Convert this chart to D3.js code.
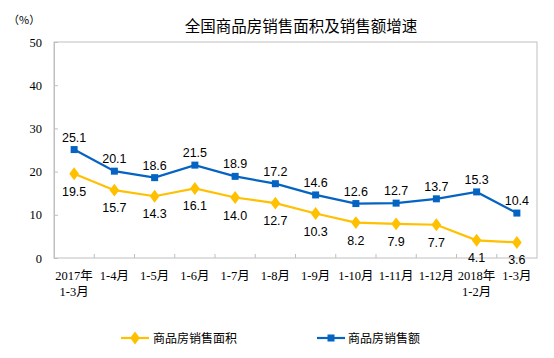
<!DOCTYPE html>
<html><head><meta charset="utf-8">
<script src="https://cdn.jsdelivr.net/npm/d3@7"></script>
<style>body{margin:0;background:#fff;}svg{display:block;}</style>
</head><body>
<script>
const categories = [["2017年","1-3月"],["1-4月"],["1-5月"],["1-6月"],["1-7月"],["1-8月"],["1-9月"],["1-10月"],["1-11月"],["1-12月"],["2018年","1-2月"],["1-3月"]];
const areaValues = [19.5,15.7,14.3,16.1,14.0,12.7,10.3,8.2,7.9,7.7,4.1,3.6];
const salesValues = [25.1,20.1,18.6,21.5,18.9,17.2,14.6,12.6,12.7,13.7,15.3,10.4];
const yTicks = [0,10,20,30,40,50];
const seriesNames = ["商品房销售面积","商品房销售额"];
const title = "全国商品房销售面积及销售额增速";

const W=554,H=358;
const m={l:54,r:537,t:42,b:258};
const svg=d3.select("body").append("svg").attr("width",W).attr("height",H);
const x=d3.scaleBand().domain(d3.range(categories.length)).range([m.l,m.r]);
const y=d3.scaleLinear().domain([0,50]).range([m.b,m.t]);
const grey="#BFBFBF";
const serif="'Liberation Serif','Times New Roman','Noto Sans CJK SC',serif";
const sans="'Liberation Sans',Arial,'Noto Sans CJK SC',sans-serif";
const cjk="'Noto Sans CJK SC','Liberation Sans',sans-serif";

svg.append("text").attr("x",301).attr("y",32).attr("text-anchor","middle")
  .attr("font-family",cjk).attr("font-size",15.5).attr("fill","#000").text(title);
svg.append("text").attr("x",8).attr("y",24).attr("font-family",cjk).attr("font-size",11).attr("fill","#000").text("（%）");

// frame
svg.append("rect").attr("x",m.l).attr("y",m.t).attr("width",m.r-m.l).attr("height",m.b-m.t)
  .attr("fill","none").attr("stroke",grey).attr("stroke-width",1);

// y axis ticks inside
const yAxis=d3.axisLeft(y).tickValues(yTicks).tickSizeInner(-4).tickSizeOuter(0).tickPadding(12);
const gy=svg.append("g").attr("transform",`translate(${m.l},0)`).call(yAxis);
gy.select(".domain").attr("stroke",grey);
gy.selectAll(".tick line").attr("stroke",grey);
gy.selectAll(".tick text").attr("font-family",serif).attr("font-size",12.5).attr("fill","#000");

// x axis ticks at band boundaries, inside
const bounds=d3.range(1,categories.length).map(i=>m.l+x.step()*i);
svg.append("g").selectAll("line").data(bounds).join("line")
  .attr("x1",d=>d).attr("x2",d=>d).attr("y1",m.b).attr("y2",m.b-4).attr("stroke",grey);
const xl=svg.append("g").selectAll("text").data(categories).join("text")
  .attr("text-anchor","middle").attr("font-family",serif).attr("font-size",12.5).attr("fill","#000")
  .attr("x",(d,i)=>x(i)+x.bandwidth()/2);
xl.each(function(d){
  const t=d3.select(this);
  d.forEach((s,j)=>t.append("tspan").attr("x",t.attr("x")).attr("y",280+j*15.5).text(s));
});

const cx=i=>x(i)+x.bandwidth()/2;
const line=d3.line().x((d,i)=>cx(i)).y(d=>y(d));
const yellow="#FFC000", blue="#0563C1";

svg.append("path").datum(areaValues).attr("d",line).attr("fill","none").attr("stroke",yellow).attr("stroke-width",2.2);
svg.append("path").datum(salesValues).attr("d",line).attr("fill","none").attr("stroke",blue).attr("stroke-width",2.2);

const diamond=d3.symbol().type(d3.symbolDiamond).size(48);
svg.append("g").selectAll("path").data(areaValues).join("path")
  .attr("d",diamond).attr("transform",(d,i)=>`translate(${cx(i)},${y(d)}) scale(1.3,1)`).attr("fill",yellow);
svg.append("g").selectAll("rect").data(salesValues).join("rect")
  .attr("x",(d,i)=>cx(i)-3.5).attr("y",d=>y(d)-3.5).attr("width",7).attr("height",7).attr("fill",blue);

svg.append("g").selectAll("text").data(areaValues).join("text")
  .attr("x",(d,i)=>cx(i)).attr("y",d=>y(d)+22).attr("text-anchor","middle")
  .attr("font-family",sans).attr("font-size",12.5).attr("fill","#000").text(d=>d.toFixed(1));
svg.append("g").selectAll("text").data(salesValues).join("text")
  .attr("x",(d,i)=>cx(i)).attr("y",d=>y(d)-8).attr("text-anchor","middle")
  .attr("font-family",sans).attr("font-size",12.5).attr("fill","#000").text(d=>d.toFixed(1));

// legend
const ly=338;
const lg=svg.append("g");
lg.append("line").attr("x1",121).attr("x2",149).attr("y1",ly).attr("y2",ly).attr("stroke",yellow).attr("stroke-width",2.2);
lg.append("path").attr("d",diamond).attr("transform",`translate(135,${ly}) scale(1.3,1)`).attr("fill",yellow);
lg.append("text").attr("x",153).attr("y",ly+4.5).attr("font-family",cjk).attr("font-size",12).attr("fill","#000").text(seriesNames[0]);
lg.append("line").attr("x1",317).attr("x2",345).attr("y1",ly).attr("y2",ly).attr("stroke",blue).attr("stroke-width",2.2);
lg.append("rect").attr("x",331-3.5).attr("y",ly-3.5).attr("width",7).attr("height",7).attr("fill",blue);
lg.append("text").attr("x",348).attr("y",ly+4.5).attr("font-family",cjk).attr("font-size",12).attr("fill","#000").text(seriesNames[1]);
</script>
</body></html>
